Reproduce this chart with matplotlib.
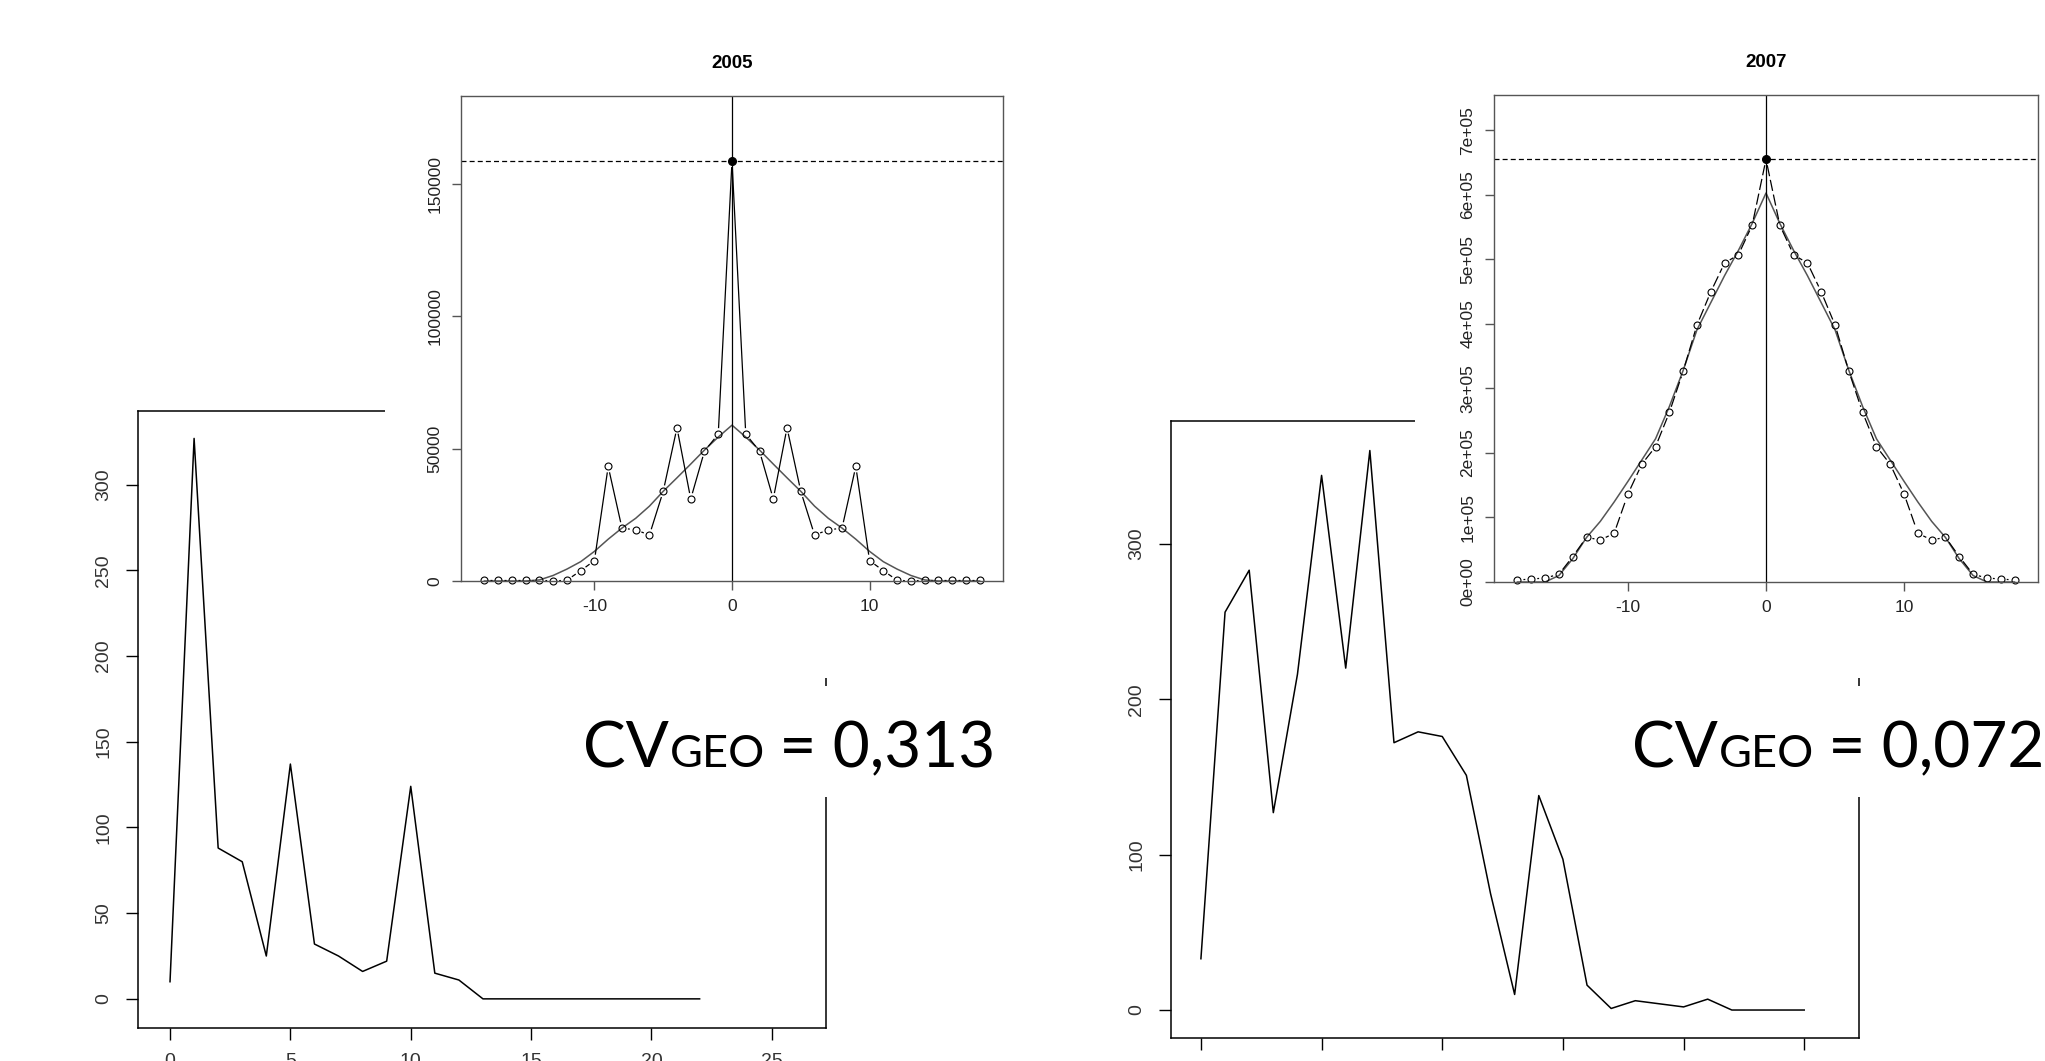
import matplotlib
matplotlib.use('Agg')
import matplotlib.pyplot as plt
import numpy as np
from matplotlib.collections import LineCollection
from matplotlib.transforms import IdentityTransform
from matplotlib.patches import Rectangle

plt.rcParams['font.family'] = ['Liberation Sans', 'DejaVu Sans']
plt.rcParams['axes.unicode_minus'] = False

# ---- data ----
# bottom charts: count per class
cls_05 = list(range(23))
n_05 = [10, 327, 88, 80, 25, 137, 32, 25, 16, 22, 124, 15, 11,
        0, 0, 0, 0, 0, 0, 0, 0, 0, 0]
cls_07 = list(range(26))
n_07 = [33, 256, 283, 127, 216, 344, 220, 360, 172, 179, 176, 151, 75,
        10, 138, 97, 16, 1, 6, 4, 2, 7, 0, 0, 0, 0]

# insets: lags, empirical covariogram, fitted curve
lags = list(range(-18, 19))
emp_05 = [300, 300, 300, 300, 300, 0, 300, 3900, 7700, 43300, 20000, 19300,
          17400, 33900, 57900, 31000, 49100, 55500, 158700, 55500, 49100,
          31000, 57900, 33900, 17400, 19300, 20000, 43300, 7700, 3900, 300,
          0, 300, 300, 300, 300, 300]
fit_05 = [0, 0, 0, 0, 400, 2100, 4500, 7300, 11200, 15800, 20000, 23700,
          28300, 33900, 39000, 44200, 49500, 54400, 58900, 54400, 49500,
          44200, 39000, 33900, 28300, 23700, 20000, 15800, 11200, 7300, 4500,
          2100, 400, 0, 0, 0, 0]
emp_07 = [3100, 4600, 6200, 11900, 39300, 69300, 65100, 75500, 136400,
          182500, 209800, 262800, 326800, 398400, 449800, 494600, 507200,
          553200, 655300, 553200, 507200, 494600, 449800, 398400, 326800,
          262800, 209800, 182500, 136400, 75500, 65100, 69300, 39300, 11900,
          6200, 4600, 3100]
fit_07 = [0, 0, 0, 10000, 36000, 69000, 94000, 124000, 156000, 189000,
          222000, 272000, 328000, 391000, 433000, 475000, 514000, 556000,
          603000, 556000, 514000, 475000, 433000, 391000, 328000, 272000,
          222000, 189000, 156000, 124000, 94000, 69000, 36000, 10000, 0, 0, 0]
peak_05 = 158700
peak_07 = 655300

yt_05 = [0, 50000, 100000, 150000]
ytl_05 = ['0', '50000', '100000', '150000']
yt_07 = [0, 1e5, 2e5, 3e5, 4e5, 5e5, 6e5, 7e5]
ytl_07 = ['0e+00', '1e+05', '2e+05', '3e+05', '4e+05', '5e+05', '6e+05', '7e+05']
lag_ticks = [-10, 0, 10]

titles = ['2005', '2007']
cv_vals = ['0,313', '0,072']

W, H = 2045, 1061
fig = plt.figure(figsize=(W / 100, H / 100), dpi=100)


def px_axes(x0, y0, x1, y1, **kw):
    return fig.add_axes([x0 / W, 1 - y1 / H, (x1 - x0) / W, (y1 - y0) / H], **kw)


def white_box(x0, y0, x1, y1, z):
    fig.add_artist(Rectangle((x0 / W, 1 - y1 / H), (x1 - x0) / W, (y1 - y0) / H,
                             transform=fig.transFigure, facecolor='white',
                             edgecolor='none', zorder=z))


def main_chart(box, x, y, xlim, ylim, yticks):
    ax = px_axes(*box, zorder=0)
    ax.plot(x, y, color='black', lw=1.1)
    ax.set_xlim(xlim)
    ax.set_ylim(ylim)
    ax.set_xticks([0, 5, 10, 15, 20, 25])
    ax.set_yticks(yticks)
    ax.tick_params(length=8.6, width=1, color='black', labelsize=14,
                   labelcolor='#333')
    ax.tick_params(axis='x', pad=9.6)
    ax.tick_params(axis='y', labelrotation=90, pad=10)
    for lab in ax.get_yticklabels():
        lab.set_va('center')
    for s in ax.spines.values():
        s.set_linewidth(1.1)
    return ax


def gapped(ax, x, y, gap, **kw):
    # R type="b": line pieces that stop short of each point
    pts = ax.transData.transform(np.column_stack([x, y]))
    segs = []
    for p, q in zip(pts[:-1], pts[1:]):
        d = q - p
        L = np.hypot(*d)
        if L > 2 * gap + 1:
            u = d / L
            segs.append([p + u * gap, q - u * gap])
    lc = LineCollection(segs, transform=IdentityTransform(), **kw)
    ax.add_collection(lc, autolim=False)


def inset(box, emp, fit, peak, ylim, yt, ytl, title, emp_ls):
    ax = px_axes(*box, zorder=3)
    ax.set_xlim(-19.7, 19.7)
    ax.set_ylim(ylim)
    ax.plot(lags, fit, color='#555', lw=1.1)
    ax.axvline(0, color='black', lw=0.9)
    ax.axhline(peak, color='black', lw=0.9, ls=(0, (4, 2.5)))
    gapped(ax, lags, emp, 6, colors='black', linewidths=0.9, linestyles=emp_ls)
    xo = [l for l in lags if l != 0]
    yo = [v for l, v in zip(lags, emp) if l != 0]
    ax.plot(xo, yo, 'o', ms=5, mfc='none', mec='black', mew=0.8, clip_on=False)
    ax.plot([0], [peak], 'o', color='black', ms=5.5)
    ax.set_xticks(lag_ticks)
    ax.set_yticks(yt)
    ax.set_yticklabels(ytl)
    ax.tick_params(length=6.5, width=1, color='#555', labelsize=12.5,
                   labelcolor='#222')
    ax.tick_params(axis='x', pad=6.8)
    ax.tick_params(axis='y', labelrotation=90, pad=6.8)
    for lab in ax.get_yticklabels():
        lab.set_va('center')
    for s in ax.spines.values():
        s.set_color('#555')
        s.set_linewidth(1.0)
    ax.set_title(title, fontsize=13.5, fontweight='bold', pad=20)
    return ax


main_chart((138, 411, 826, 1028), cls_05, n_05, (-1.33, 27.25), (-17, 343),
           [0, 50, 100, 150, 200, 250, 300])
main_chart((1171, 421, 1859, 1038), cls_07, n_07, (-1.24, 27.27), (-18, 379),
           [0, 100, 200, 300])

white_box(385, 0, 1040, 678, 2)
white_box(1415, 0, 2045, 678, 2)

inset((461, 96, 1003, 581), emp_05, fit_05, peak_05, (0, 183300), yt_05, ytl_05,
      titles[0], 'solid')
inset((1494, 95, 2038, 582), emp_07, fit_07, peak_07, (0, 755000), yt_07, ytl_07,
      titles[1], (0, (9, 3)))

# CV text with white background
renderer = fig.canvas.get_renderer()


def cv_label(x0, base, val):
    white_box(x0 - 8, 686, min(x0 + 425, W), 797, 5)
    kw = dict(family=['Lato', 'DejaVu Sans'], color='black', va='baseline',
              ha='left', zorder=6, transform=IdentityTransform())
    yb = H - base
    t1 = fig.text(x0, yb, 'CV', fontsize=46, **kw)
    x1 = t1.get_window_extent(renderer).x1
    t2 = fig.text(x1 + 1, yb, 'GEO', fontsize=32.5, **kw)
    x2 = t2.get_window_extent(renderer).x1
    fig.text(x2 - 2, yb, ' = ' + val, fontsize=46, **kw)


cv_label(583, 767, cv_vals[0])
cv_label(1632, 767, cv_vals[1])

fig.savefig('out.png', dpi=100)
